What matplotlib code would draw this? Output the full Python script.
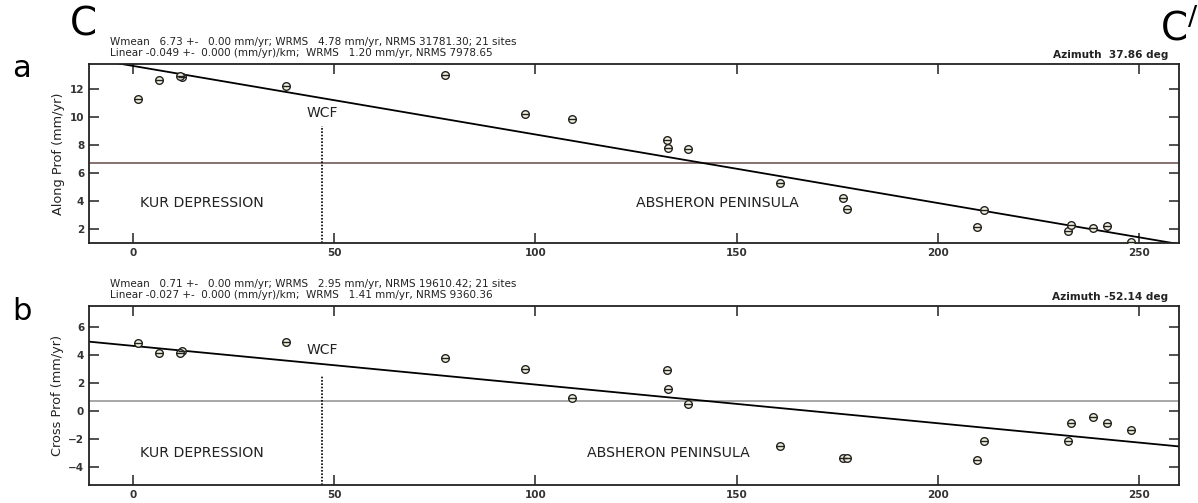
import matplotlib
matplotlib.use("Agg")
import matplotlib.pyplot as plt
import numpy as np

# ---- data ----
dist_km = [1.3, 6.5, 12.1, 11.6, 38.0, 77.4, 97.5, 109.2, 132.7, 133.0, 137.9,
           160.9, 176.5, 177.5, 209.9, 211.5, 232.3, 233.2, 238.7, 242.0, 248.0]
along_prof = [11.31, 12.66, 12.9, 12.95, 12.24, 13.02, 10.26, 9.9, 8.38, 7.8, 7.71,
              5.31, 4.19, 3.4, 2.12, 3.33, 1.86, 2.3, 2.04, 2.19, 1.1]
cross_prof = [4.86, 4.14, 4.26, 4.12, 4.93, 3.76, 3.0, 0.91, 2.88, 1.52, 0.48,
              -2.5, -3.36, -3.36, -3.48, -2.19, -2.19, -0.9, -0.45, -0.86, -1.36]
# fit parameters (intercept, slope) and weighted means
along_fit = (13.66, -0.049)
cross_fit = (4.63, -0.0276)
along_mean = 6.73
cross_mean = 0.71
wcf_km = 47.0
xticks = [0, 50, 100, 150, 200, 250]
along_yticks = [2, 4, 6, 8, 10, 12]
cross_yticks = [-4, -2, 0, 2, 4, 6]

header_a = ["Wmean   6.73 +-   0.00 mm/yr; WRMS   4.78 mm/yr, NRMS 31781.30; 21 sites",
            "Linear -0.049 +-  0.000 (mm/yr)/km;  WRMS   1.20 mm/yr, NRMS 7978.65"]
header_b = ["Wmean   0.71 +-   0.00 mm/yr; WRMS   2.95 mm/yr, NRMS 19610.42; 21 sites",
            "Linear -0.027 +-  0.000 (mm/yr)/km;  WRMS   1.41 mm/yr, NRMS 9360.36"]

W, H = 1198, 503
fig = plt.figure(figsize=(W / 100, H / 100), dpi=100)
fig.patch.set_facecolor("white")

def fx(px):
    return px / W

def fy(py):
    return 1 - py / H

ax_a = fig.add_axes([fx(89), fy(243), fx(1179 - 89), (243 - 64) / H])
ax_b = fig.add_axes([fx(89), fy(485), fx(1179 - 89), (485 - 305.7) / H])

xlim = (-11, 260)

def setup(ax, yvals, fit, mean, meancolor, yticks, ylim, ylabel, wcf_top, wcf_txt_y,
          region_y, kur_x, abs_x):
    x = np.array(dist_km)
    y = np.array(yvals)
    ax.set_xlim(*xlim)
    ax.set_ylim(*ylim)
    ax.axhline(mean, color=meancolor, lw=1.3, zorder=1)
    xl = np.array(xlim)
    ax.plot(xl, fit[0] + fit[1] * xl, color="black", lw=1.3, zorder=2)
    ax.plot([wcf_km, wcf_km], [ylim[0], wcf_top], color="black", lw=1.2,
            ls=(0, (1, 1)), zorder=2, clip_on=False)
    ax.text(wcf_km, wcf_txt_y, "WCF", ha="center", va="center", fontsize=10,
            color="#222222")
    ax.text(kur_x, region_y, "KUR DEPRESSION", ha="left", va="center",
            fontsize=10.2, color="#222222")
    ax.text(abs_x, region_y, "ABSHERON PENINSULA", ha="left", va="center",
            fontsize=10.2, color="#222222")
    ax.plot(x, y, ls="none", marker="o", ms=5.5, mfc="#f3f1dc", mec="#222222",
            mew=1.0, zorder=3)
    ax.plot(x, y, ls="none", marker="_", ms=5.5, mec="#222222", mew=1.0, zorder=4)
    ax.set_xticks(xticks)
    ax.set_yticks(yticks)
    ax.tick_params(axis="both", direction="in", length=7, width=1.2,
                   labelsize=7.5, top=True, right=True, color="#333333")
    for lab in ax.get_xticklabels() + ax.get_yticklabels():
        lab.set_fontweight("bold")
        lab.set_color("#333333")
    for s in ax.spines.values():
        s.set_linewidth(1.3)
        s.set_color("#222222")
    ax.set_ylabel(ylabel, fontsize=9.3, color="#222222", labelpad=3)

setup(ax_a, along_prof, along_fit, along_mean, "#7d6464", along_yticks, (1.0, 13.8),
      "Along Prof (mm/yr)", 9.35, 10.3, 3.86, 1.7, 125)
setup(ax_b, cross_prof, cross_fit, cross_mean, "#a0a0a0", cross_yticks, (-5.3, 7.5),
      "Cross Prof (mm/yr)", 2.5, 4.36, -3.0, 1.7, 112.8)

hx = (110 - 89) / 1090
for ax, hdr, az in [(ax_a, header_a, "Azimuth  37.86 deg"),
                    (ax_b, header_b, "Azimuth -52.14 deg")]:
    ax.text(hx, 1.122, hdr[0], transform=ax.transAxes, fontsize=7.5,
            ha="left", va="center", color="#222222")
    ax.text(hx, 1.06, hdr[1], transform=ax.transAxes, fontsize=7.5,
            ha="left", va="center", color="#222222")
    ax.text(0.99, 1.05, az, transform=ax.transAxes, fontsize=7.6,
            ha="right", va="center", fontweight="bold", color="#222222")

# panel letters and profile ends
fig.text(fx(12), fy(77), "a", fontsize=22, ha="left", va="baseline")
fig.text(fx(12), fy(320), "b", fontsize=22, ha="left", va="baseline")
fig.text(fx(70), fy(35), "C", fontsize=28, ha="left", va="baseline")
fig.text(fx(1160), fy(40), "C$^{/}$", fontsize=28, ha="left", va="baseline")

fig.savefig("out.png", dpi=100, facecolor="white")
